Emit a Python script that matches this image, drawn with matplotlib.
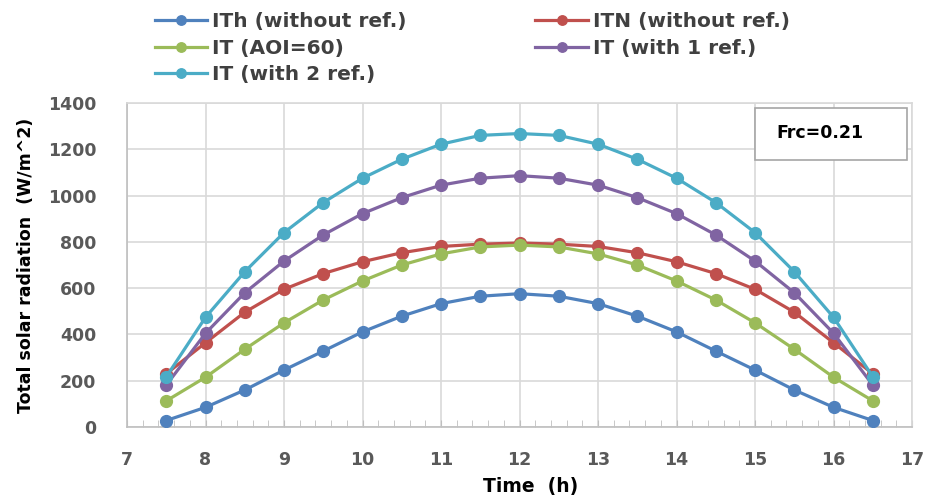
import matplotlib
matplotlib.use("Agg")
import matplotlib.pyplot as plt
from matplotlib.patches import Rectangle
from matplotlib.ticker import MultipleLocator

# ------------------------------------------------------------------------------
# data
# ------------------------------------------------------------------------------
time_h = [7.5, 8, 8.5, 9, 9.5, 10, 10.5, 11, 11.5, 12,
          12.5, 13, 13.5, 14, 14.5, 15, 15.5, 16, 16.5]

ith = [28, 85, 160, 246, 328, 411, 479, 533, 565, 576,
       565, 533, 479, 411, 328, 246, 160, 85, 28]
itn = [230, 364, 496, 595, 663, 714, 753, 780, 790, 795,
       790, 780, 753, 714, 663, 595, 496, 364, 230]
it_aoi = [113, 215, 336, 450, 549, 631, 700, 748, 778, 786,
          778, 748, 700, 631, 549, 450, 336, 215, 113]
it_ref1 = [181, 405, 580, 717, 830, 922, 991, 1045, 1075, 1086,
           1075, 1045, 991, 922, 830, 717, 580, 405, 181]
it_ref2 = [217, 474, 671, 840, 970, 1075, 1157, 1222, 1260, 1268,
           1260, 1222, 1157, 1075, 970, 840, 671, 474, 217]

labels = ["ITh (without ref.)", "ITN (without ref.)", "IT (AOI=60)",
          "IT (with 1 ref.)", "IT (with 2 ref.)"]
colors = ["#4F81BD", "#C0504D", "#9BBB59", "#8064A2", "#4BACC6"]

plt.rcParams["font.family"] = ["DejaVu Sans"]

fig = plt.figure(figsize=(9.28, 4.98), dpi=100)
ax = fig.add_axes([0.1369, 0.1426, 0.8459, 0.6506])

handles = []
for y, lab, c in zip([ith, itn, it_aoi, it_ref1, it_ref2], labels, colors):
    h, = ax.plot(time_h, y, color=c, lw=2.3, marker="o", ms=8.5,
                 label=lab, zorder=3)
    handles.append(h)

ax.set_xlim(7, 17)
ax.set_ylim(0, 1400)
ax.xaxis.set_major_locator(MultipleLocator(1))
ax.xaxis.set_minor_locator(MultipleLocator(0.2))
ax.yaxis.set_major_locator(MultipleLocator(200))
ax.grid(True, which="major", color="#d9d9d9", lw=1.2, zorder=0)

for s in ax.spines.values():
    s.set_color("#d9d9d9")
    s.set_linewidth(1.2)
ax.spines["bottom"].set_color("#bfbfbf")
ax.spines["left"].set_color("#bfbfbf")

ax.tick_params(axis="x", which="both", direction="in", length=5,
               color="#bfbfbf", pad=17, labelsize=12.5, labelcolor="#595959")
ax.tick_params(axis="y", length=0, pad=22, labelsize=12.5, labelcolor="#595959")
for t in ax.get_xticklabels() + ax.get_yticklabels():
    t.set_fontweight("bold")

ax.set_xlabel("Time  (h)", fontsize=13.5, fontweight="bold")
ax.xaxis.set_label_coords(0.514, -0.155)
ax.set_ylabel("Total solar radiation  (W/m^2)", fontsize=12.5,
              fontweight="bold", labelpad=9)

# Frc annotation box
ax.add_patch(Rectangle((0.800, 0.824), 0.1936, 0.161, transform=ax.transAxes,
                       facecolor="white", edgecolor="#a6a6a6", lw=1.2, zorder=5))
ax.text(0.883, 0.907, "Frc=0.21", transform=ax.transAxes, ha="center",
        va="center", fontsize=12.5, fontweight="bold", zorder=6)

# legend, row-major order as in the reference
order = [0, 2, 4, 1, 3]
fig.legend([handles[i] for i in order], [labels[i] for i in order],
           loc="upper left", bbox_to_anchor=(0.147, 1.012), ncol=2,
           frameon=False, markerscale=0.8,
           prop={"size": 14.5, "weight": "bold"},
           handlelength=2.6, handletextpad=0.25,
           labelspacing=0.37, columnspacing=6.4, labelcolor="#404040")

fig.savefig("out.png", dpi=100)
